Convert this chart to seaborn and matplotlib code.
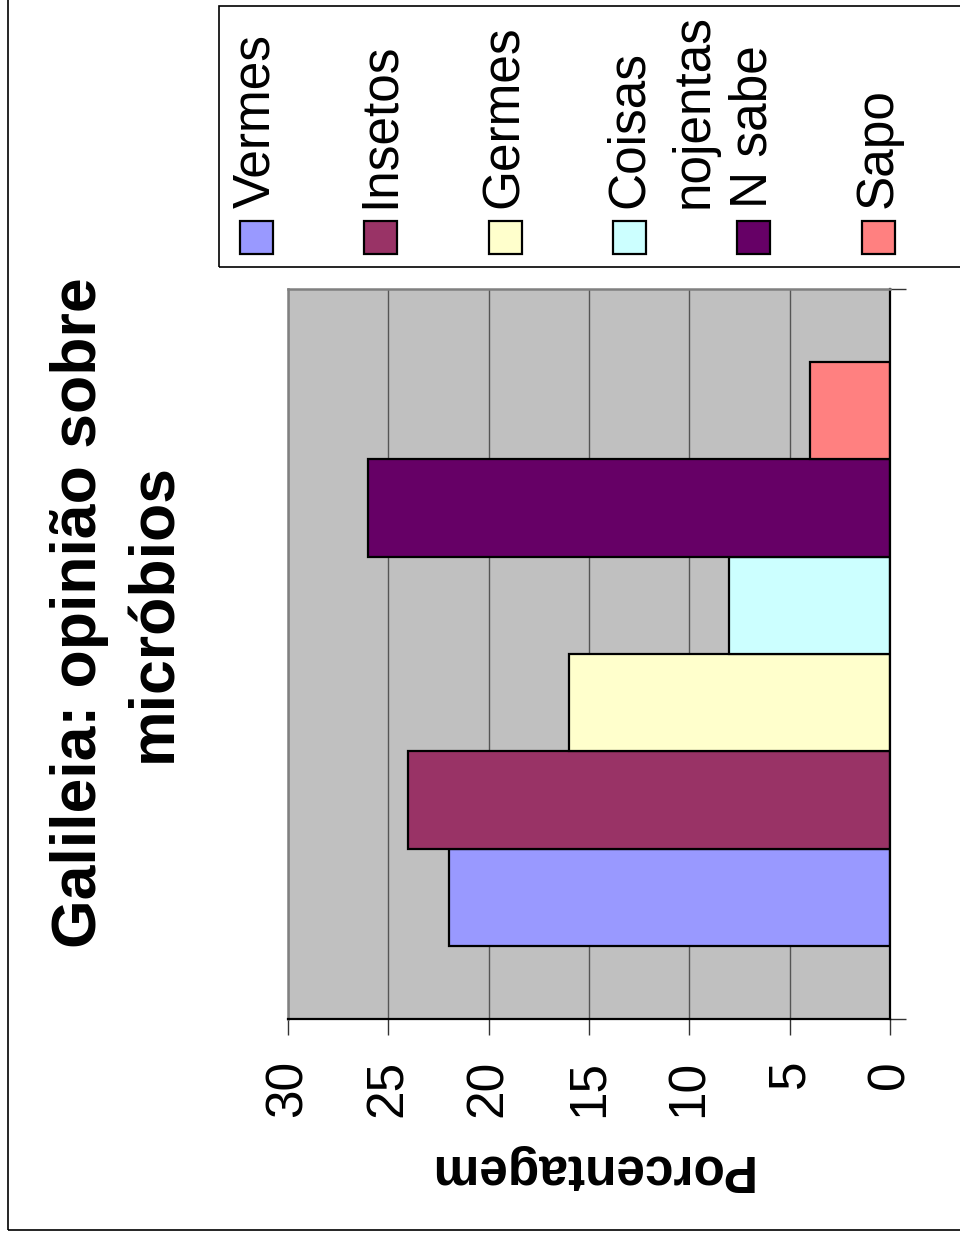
import matplotlib
matplotlib.use("Agg")
import matplotlib.pyplot as plt
import seaborn as sns
import pandas as pd
from matplotlib.patches import Rectangle

# Survey answers, in legend order
respostas = ["Vermes", "Insetos", "Germes", "Coisas nojentas", "N sabe", "Sapo"]
rotulos_legenda = ["Vermes", "Insetos", "Germes", "Coisas\nnojentas", "N sabe", "Sapo"]
porcentagens = [22, 24, 16, 8, 26, 4]
cores = ["#9999FF", "#993366", "#FFFFCC", "#CCFFFF", "#660066", "#FF8080"]
marcas = [0, 5, 10, 15, 20, 25, 30]
titulo = "Galileia: opinião sobre\nmicróbios"
eixo = "Porcentagem"
grupo = "Galileia"

sns.set_theme(style="white")
plt.rcParams["font.family"] = ["Liberation Sans", "DejaVu Sans"]
plt.rcParams["text.color"] = "black"
plt.rcParams["axes.labelcolor"] = "black"
plt.rcParams["xtick.color"] = "black"
plt.rcParams["ytick.color"] = "black"

W, H = 960, 1236
fig = plt.figure(figsize=(W / 100, H / 100), dpi=100)
fig.patch.set_facecolor("white")

# whole chart is laid out turned a quarter turn: values run right-to-left
ax = fig.add_axes([288 / W, 1 - 1019 / H, (890 - 288) / W, (1019 - 289) / H])
df = pd.DataFrame({"grupo": [grupo] * len(respostas),
                   "resposta": respostas,
                   "valor": porcentagens})
sns.barplot(data=df, x="valor", y="grupo", hue="resposta", hue_order=respostas,
            palette=cores, orient="h", width=0.8, saturation=1,
            edgecolor="black", linewidth=1.6, legend=False, ax=ax)

ax.set_facecolor("#C0C0C0")
ax.set_xlim(30, 0)
ax.set_ylim(-0.5, 0.5)
ax.set_axisbelow(True)
ax.xaxis.grid(True, color="#555555", linewidth=1.0)
ax.yaxis.grid(False)

ax.set_xticks(marcas)
ax.set_xticklabels([str(m) for m in marcas])
ax.tick_params(axis="x", bottom=True, labelsize=37, labelrotation=90,
               length=11.5, width=1.0, color="#333333", labelcolor="black",
               pad=18)

ax.yaxis.tick_right()
ax.set_yticks([-0.5, 0.5])
ax.set_yticklabels([])
ax.set_ylabel("")
ax.tick_params(axis="y", right=True, left=False, length=11.5, width=1.0,
               color="#333333")

for lado in ("right", "bottom"):
    ax.spines[lado].set_color("black")
    ax.spines[lado].set_linewidth(1.6)
for lado in ("top", "left"):
    ax.spines[lado].set_color("#808080")
    ax.spines[lado].set_linewidth(1.8)

ax.set_xlabel(eixo, rotation=180, fontsize=37, fontweight="bold", labelpad=19,
              color="black")

# title on the left, reading upwards
fig.text(117 / W, 1 - 613 / H, titulo, rotation=90, ha="center", va="center",
         fontsize=45, fontweight="bold", multialignment="center",
         linespacing=1.35, color="black")

# outer frame
fig.add_artist(Rectangle((8 / W, 1 - 1230 / H), 2, 2, transform=fig.transFigure,
                         fill=False, edgecolor="black", linewidth=1.2))

# legend across the top
fig.add_artist(Rectangle((219 / W, 1 - 267 / H), 1, (267 - 6) / H,
                         transform=fig.transFigure, fill=False,
                         edgecolor="black", linewidth=1.2))
for i, (rotulo, cor) in enumerate(zip(rotulos_legenda, cores)):
    cx = 256.3 + 124.4 * i
    fig.add_artist(Rectangle(((cx - 16.5) / W, 1 - 254 / H), 33 / W, 33 / H,
                             transform=fig.transFigure, facecolor=cor,
                             edgecolor="black", linewidth=1.6))
    fig.text((cx - 25.0) / W, 1 - 208 / H, rotulo, rotation=90, ha="left",
             va="bottom", fontsize=37, linespacing=1.43, color="black")

fig.savefig("out.png", dpi=100, facecolor="white")
